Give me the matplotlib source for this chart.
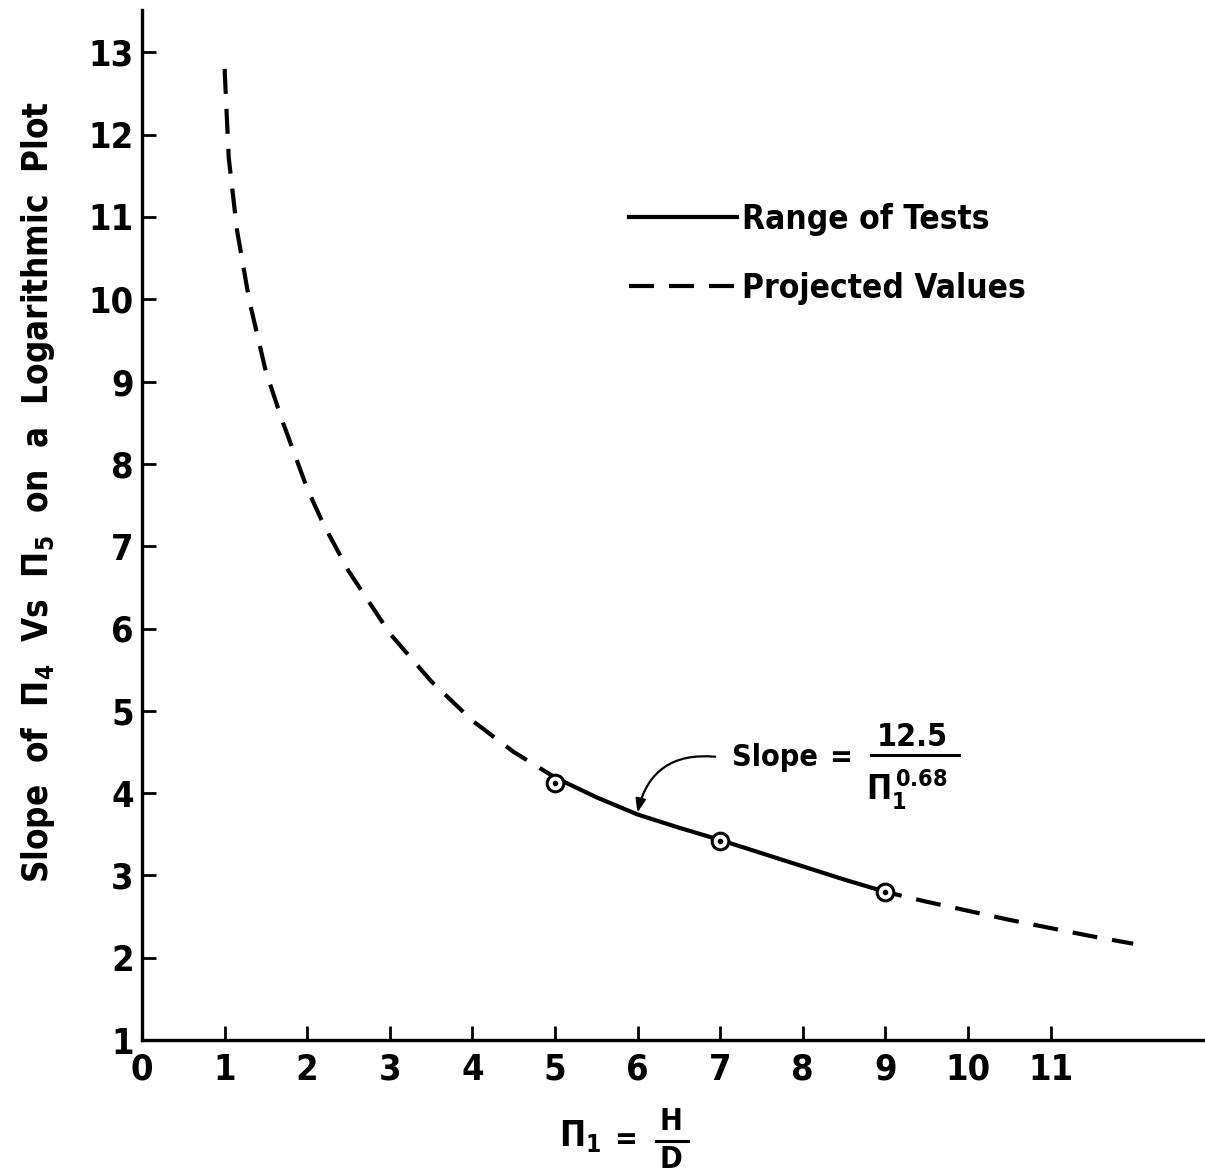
import matplotlib
matplotlib.use("Agg")
import matplotlib.pyplot as plt
from matplotlib import font_manager as fm
from matplotlib.lines import Line2D
import numpy as np

# ---------------- data ----------------
curve_x = [1.0, 1.05, 1.15, 1.3, 1.5, 1.7, 2.0, 2.2, 2.5, 3.0, 3.5, 4.0, 4.5,
           5.0, 5.5, 6.0, 6.5, 7.0, 7.5, 8.0, 8.5, 9.0,
           9.5, 10.0, 10.5, 11.0, 11.5, 12.0]
curve_y = [12.8, 11.72, 10.84, 9.98, 9.12, 8.52, 7.70, 7.26, 6.70, 5.94, 5.36, 4.88, 4.50,
           4.19, 3.95, 3.74, 3.58, 3.43, 3.27, 3.11, 2.95, 2.80,
           2.68, 2.57, 2.46, 2.36, 2.26, 2.17]
test_range = (5.0, 9.0)
points_x = [5, 7, 9]
points_y = [4.12, 3.42, 2.80]
x_ticks = list(range(0, 12))
y_ticks = list(range(1, 14))
legend_labels = ["Range of Tests", "Projected Values"]

# ---------------- fonts ----------------
names = {f.name for f in fm.fontManager.ttflist}
stretch = "normal"
if "Liberation Sans Narrow" in names:
    FONT = "Liberation Sans Narrow"
elif any(f.name == "DejaVu Sans" and f.stretch == "condensed" for f in fm.fontManager.ttflist):
    FONT = "DejaVu Sans"
    stretch = "condensed"
else:
    FONT = "DejaVu Sans"
plt.rcParams["font.family"] = [FONT, "DejaVu Sans"]
plt.rcParams["font.weight"] = "bold"
plt.rcParams["font.stretch"] = stretch
plt.rcParams["mathtext.fontset"] = "custom"
plt.rcParams["mathtext.rm"] = f"{FONT}:bold"
plt.rcParams["mathtext.it"] = f"{FONT}:bold"
plt.rcParams["mathtext.bf"] = f"{FONT}:bold"
plt.rcParams["mathtext.sf"] = f"{FONT}:bold"

W, H = 1205, 1176
fig = plt.figure(figsize=(W / 100, H / 100), dpi=100)

def fx(px):
    return px / W

def fy(py):
    return 1 - py / H

left, right, bottom, top = 142, 1205, 1040, 10
ax = fig.add_axes([fx(left), fy(bottom), fx(right - left), (bottom - top) / H])
ax.set_xlim(0, (right - left) / 82.6)
ax.set_ylim(1, 1 + (bottom - top) / 82.3)

cx = np.array(curve_x)
cy = np.array(curve_y)
lo, hi = test_range
m_low = cx <= lo
m_mid = (cx >= lo) & (cx <= hi)
m_high = cx >= hi

LW = 3.0
DASH = (6.0, 3.6)
l_dash, = ax.plot(cx[m_low], cy[m_low], color="black", lw=LW, linestyle=(0, DASH),
                  dash_capstyle="butt")
ax.plot(cx[m_high], cy[m_high], color="black", lw=LW, linestyle=(2.0, DASH),
        dash_capstyle="butt")
l_solid, = ax.plot(cx[m_mid], cy[m_mid], color="black", lw=LW)

ax.plot(points_x, points_y, "o", ms=12, mfc="white", mec="black", mew=2.2, zorder=5)
ax.plot(points_x, points_y, "o", ms=3, mfc="black", mec="black", zorder=6)

# axes styling
for s in ["top", "right"]:
    ax.spines[s].set_visible(False)
for s in ["left", "bottom"]:
    ax.spines[s].set_linewidth(2.4)
ax.set_xticks(x_ticks)
ax.set_yticks(y_ticks)
ax.set_xticklabels([str(t) for t in x_ticks])
ax.set_yticklabels([str(t) for t in y_ticks])
ax.tick_params(axis="both", direction="in", length=10, width=2, labelsize=26)
ax.tick_params(axis="x", pad=9)
ax.tick_params(axis="y", pad=6)

# legend
leg = fig.legend([l_solid, l_dash], legend_labels, loc="upper left",
                 bbox_to_anchor=(fx(629), fy(203)), frameon=False,
                 fontsize=24, handlelength=3.25, handletextpad=0.15,
                 labelspacing=1.07, borderpad=0, borderaxespad=0)

# y label
fig.text(fx(38), fy(492), r"Slope  of  $\Pi_4$  Vs  $\Pi_5$  on  a  Logarithmic  Plot",
         rotation=90, ha="center", va="center", fontsize=25)

# x label: Pi_1 = H / D
fig.text(fx(580), fy(1136), r"$\Pi_1$", ha="center", va="center", fontsize=25)
fig.text(fx(626), fy(1140), "=", ha="center", va="center", fontsize=22)
fig.text(fx(671), fy(1122), "H", ha="center", va="center", fontsize=22)
fig.text(fx(671), fy(1160), "D", ha="center", va="center", fontsize=22)
fig.add_artist(Line2D([fx(656), fx(688)], [fy(1141), fy(1141)], color="black", lw=2.2,
                      transform=fig.transFigure))

# formula annotation
fig.text(fx(775), fy(757), "Slope", ha="center", va="center", fontsize=22)
fig.text(fx(841), fy(758), "=", ha="center", va="center", fontsize=22)
fig.text(fx(912), fy(737), "12.5", ha="center", va="center", fontsize=23)
fig.add_artist(Line2D([fx(871), fx(959)], [fy(755), fy(755)], color="black", lw=2.2,
                      transform=fig.transFigure))
fig.text(fx(866), fy(790), r"$\Pi_1^{\,0.68}$", ha="left", va="center", fontsize=24)
ax.annotate("", xy=(5.99, 3.73), xycoords="data",
            xytext=(fx(718), fy(757)), textcoords="figure fraction",
            arrowprops=dict(arrowstyle="-|>,head_length=0.8,head_width=0.3",
                            color="black", lw=1.6,
                            connectionstyle="arc3,rad=0.45"))

fig.savefig("out.png", dpi=100)
